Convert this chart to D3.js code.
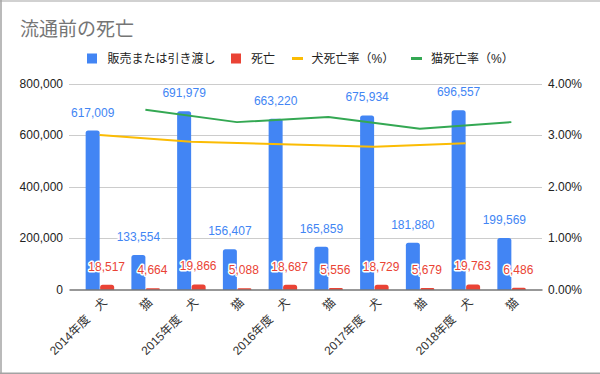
<!DOCTYPE html>
<html>
<head>
<meta charset="utf-8">
<script src="https://cdn.jsdelivr.net/npm/d3@7"></script>
<style>
  html, body { margin: 0; padding: 0; background: #fff; }
  svg { display: block; }
  text { font-family: "Liberation Sans", Arial, "Noto Sans CJK JP", sans-serif; }
</style>
</head>
<body>
<svg id="chart" width="600" height="374"></svg>
<script>
// ---- data ----
const title = "流通前の死亡";
const years = ["2014年度", "2015年度", "2016年度", "2017年度", "2018年度"];
const animals = ["犬", "猫"];
const sales = [617009, 133554, 691979, 156407, 663220, 165859, 675934, 181880, 696557, 199569];
const deaths = [18517, 4664, 19866, 5088, 18687, 5556, 18729, 5679, 19763, 6486];
const dogRate = [3.00, 2.87, 2.82, 2.77, 2.84];
const catRate = [3.49, 3.25, 3.35, 3.12, 3.25];
const leftTicks = [0, 200000, 400000, 600000, 800000];
const rightTicks = [0, 1, 2, 3, 4];
const legendLabels = ["販売または引き渡し", "死亡", "犬死亡率（%）", "猫死亡率（%）"];

// ---- build categories ----
const cats = [];
years.forEach(y => animals.forEach(a => cats.push({ year: y, animal: a })));
cats.forEach((c, i) => { c.sales = sales[i]; c.deaths = deaths[i]; c.idx = i; });

const colors = { blue: "#4285f4", red: "#ea4335", yellow: "#fbbc04", green: "#34a853" };

const svg = d3.select("#chart");
const L = 69, R = 542, T = 83.5, B = 289.5;

const x = d3.scaleBand().domain(d3.range(cats.length)).range([L, R]).paddingInner(0).paddingOuter(0.17);
const yL = d3.scaleLinear().domain([0, 800000]).range([B, T]);
const yR = d3.scaleLinear().domain([0, 4]).range([B, T]);
const cx = i => x(i) + x.bandwidth() / 2;
const barW = 14;

// frame
svg.append("line").attr("x1", 0).attr("x2", 600).attr("y1", 1).attr("y2", 1).attr("stroke", "#a3a3a3").attr("stroke-width", 1.2);
svg.append("line").attr("x1", 1).attr("x2", 1).attr("y1", 0).attr("y2", 374).attr("stroke", "#a3a3a3").attr("stroke-width", 1.5);
svg.append("line").attr("x1", 0).attr("x2", 600).attr("y1", 373.2).attr("y2", 373.2).attr("stroke", "#a3a3a3").attr("stroke-width", 1.5);

// title
svg.append("text").attr("x", 20).attr("y", 36).attr("font-size", 19).attr("fill", "#757575")
  .style("font-family", "'Noto Sans CJK JP', sans-serif").text(title);

// legend
const lg = svg.append("g").attr("font-size", 12).attr("fill", "#222");
const legendItems = [
  { type: "rect", color: colors.blue, ix: 87, tx: 107.5 },
  { type: "rect", color: colors.red, ix: 231, tx: 251 },
  { type: "line", color: colors.yellow, ix: 292, tx: 311.5 },
  { type: "line", color: colors.green, ix: 411, tx: 431 }
];
legendItems.forEach((it, i) => {
  if (it.type === "rect") {
    lg.append("rect").attr("x", it.ix).attr("y", 53.5).attr("width", 10).attr("height", 10).attr("fill", it.color);
  } else {
    lg.append("rect").attr("x", it.ix).attr("y", 57).attr("width", 11).attr("height", 3).attr("fill", it.color);
  }
  lg.append("text").attr("x", it.tx).attr("y", 63).attr("fill", "#222").text(legendLabels[i]);
});

// gridlines
svg.append("g").selectAll("line").data(leftTicks.slice(1)).join("line")
  .attr("x1", L).attr("x2", R)
  .attr("y1", d => Math.round(yL(d)) + 0.5).attr("y2", d => Math.round(yL(d)) + 0.5)
  .attr("stroke", "#cccccc").attr("stroke-width", 1);

// left axis
const axL = svg.append("g").attr("transform", `translate(${L},0)`)
  .call(d3.axisLeft(yL).tickValues(leftTicks).tickSize(0).tickPadding(6).tickFormat(d3.format(",")));
axL.select(".domain").remove();
axL.selectAll("text").attr("font-size", 12).attr("fill", "#222").style("font-family", "'Liberation Sans', Arial, sans-serif");

// right axis
const axR = svg.append("g").attr("transform", `translate(${R},0)`)
  .call(d3.axisRight(yR).tickValues(rightTicks).tickSize(0).tickPadding(6).tickFormat(d => d.toFixed(2) + "%"));
axR.select(".domain").remove();
axR.selectAll("text").attr("font-size", 12).attr("fill", "#222").style("font-family", "'Liberation Sans', Arial, sans-serif");

// bars with rounded top corners
function barPath(x0, w, yTop, yBase, r) {
  const h = yBase - yTop;
  r = Math.min(r, h, w / 2);
  return `M${x0},${yBase}V${yTop + r}Q${x0},${yTop} ${x0 + r},${yTop}H${x0 + w - r}Q${x0 + w},${yTop} ${x0 + w},${yTop + r}V${yBase}Z`;
}
const bars = svg.append("g");
bars.selectAll("path.sales").data(cats).join("path").attr("class", "sales")
  .attr("d", d => barPath(cx(d.idx) - barW, barW, yL(d.sales), B, 2.5)).attr("fill", colors.blue);
bars.selectAll("path.deaths").data(cats).join("path").attr("class", "deaths")
  .attr("d", d => barPath(cx(d.idx) + 0.5, barW, yL(d.deaths), B, 2.5)).attr("fill", colors.red);

// x axis
const axB = svg.append("g").attr("transform", `translate(0,${B})`)
  .call(d3.axisBottom(x).tickSize(0).tickSizeOuter(0)
    .tickFormat(i => cats[i].animal === "犬" ? cats[i].year + "　" + cats[i].animal : cats[i].animal));
axB.select(".domain").attr("stroke", "#333").attr("stroke-width", 1.2);
axB.selectAll("text")
  .attr("y", 0).attr("dy", "0.35em")
  .attr("transform", "translate(5,10.5) rotate(-45)")
  .attr("text-anchor", "end").attr("font-size", 12).attr("fill", "#333");

// lines
const dogPts = dogRate.map((v, k) => [cx(k * 2), yR(v)]);
const catPts = catRate.map((v, k) => [cx(k * 2 + 1), yR(v)]);
const lineGen = d3.line();
svg.append("path").attr("d", lineGen(dogPts)).attr("fill", "none").attr("stroke", colors.yellow).attr("stroke-width", 2).attr("stroke-linejoin", "round");
svg.append("path").attr("d", lineGen(catPts)).attr("fill", "none").attr("stroke", colors.green).attr("stroke-width", 2).attr("stroke-linejoin", "round");

// data labels
const lab = svg.append("g").attr("font-size", 12).style("font-family", "Roboto, 'Liberation Sans', sans-serif")
  .attr("text-anchor", "middle");
lab.selectAll("text.s").data(cats).join("text").attr("class", "s")
  .attr("x", d => cx(d.idx) - barW / 2).attr("y", d => yL(d.sales) - 14)
  .attr("fill", colors.blue).attr("stroke", "#fff").attr("stroke-width", 3).attr("paint-order", "stroke")
  .attr("stroke-linejoin", "round")
  .text(d => d3.format(",")(d.sales));
lab.selectAll("text.d").data(cats).join("text").attr("class", "d")
  .attr("x", d => cx(d.idx) + barW / 2).attr("y", d => yL(d.deaths) - 14)
  .attr("fill", colors.red).attr("stroke", "#fff").attr("stroke-width", 3).attr("paint-order", "stroke")
  .attr("stroke-linejoin", "round")
  .text(d => d3.format(",")(d.deaths));
</script>
</body>
</html>
